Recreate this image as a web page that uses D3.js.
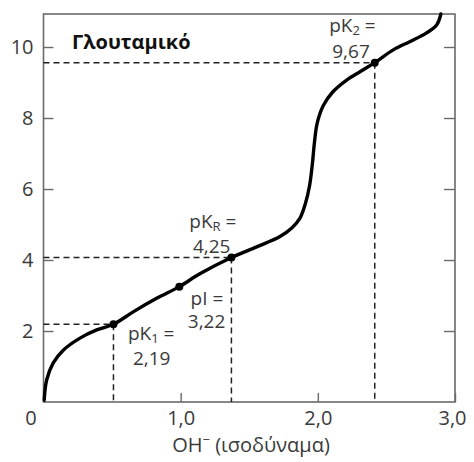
<!DOCTYPE html>
<html>
<head>
<meta charset="utf-8">
<script src="https://cdn.jsdelivr.net/npm/d3@7"></script>
<style>
  body { margin: 0; background: #fff; }
  svg { display: block; }
  .tick text { font-family: "Open Sans", sans-serif; font-size: 20px; fill: #3a3a3a; }
  .lbl { font-family: "Open Sans", sans-serif; font-size: 20px; fill: #3a3a3a; }
  .pt { font-family: "Open Sans", sans-serif; font-size: 19px; fill: #3a3a3a; }
</style>
</head>
<body>
<div class="chart"></div>
<script>
// titration curve (OH- equivalents vs pH)
var curveX = [0.005, 0.023, 0.071, 0.144, 0.266, 0.388, 0.51, 0.654, 0.825, 0.99, 1.14, 1.37, 1.554, 1.724, 1.81, 1.87, 1.91, 1.94, 1.96, 1.975, 1.995, 2.04, 2.11, 2.21, 2.31, 2.415, 2.55, 2.67, 2.79, 2.866, 2.897]
var curveY = [0.05, 0.62, 1.10, 1.46, 1.80, 2.03, 2.19, 2.54, 2.92, 3.25, 3.61, 4.07, 4.37, 4.66, 4.90, 5.18, 5.60, 6.10, 6.70, 7.30, 7.85, 8.35, 8.74, 9.07, 9.31, 9.56, 9.92, 10.15, 10.39, 10.62, 10.93]

// marked points
var ptX = [0.51, 0.99, 1.37, 2.415]
var ptY = [2.19, 3.25, 4.07, 9.56]
var ptName = ["pK", "pI", "pK", "pK"]
var ptSub = ["1", "", "R", "2"]
var ptValue = ["2,19", "3,22", "4,25", "9,67"]
var ptDashed = [true, false, true, true]

// ticks
var xTicks = [0, 1, 2, 3]
var xTickLabels = ["0", "1,0", "2,0", "3,0"]
var yTicks = [2, 4, 6, 8, 10]
var yTickLabels = ["2", "4", "6", "8", "10"]

var width = 474, height = 462

let svg = d3.select('div.chart').append('svg')
  .attr("width", width).attr("height", height)

let x = d3.scaleLinear().domain([0, 3]).range([43.5, 455])
let y = d3.scaleLinear().domain([0, 10.93]).range([402, 14])

//frame
svg.append("rect")
  .attr("x", x(0)).attr("y", y(10.93))
  .attr("width", x(3) - x(0)).attr("height", y(0) - y(10.93))
  .attr("fill", "none").attr("stroke", "#6a6a6a").attr("stroke-width", 1.6)

//Axis_y left
let yl = svg.append("g")
  .attr("transform", "translate(" + x(0) + ",0)")
  .call(d3.axisLeft(y).tickValues(yTicks).tickSizeInner(-10).tickSizeOuter(0).tickPadding(10)
    .tickFormat((d, i) => yTickLabels[i]))
yl.select(".domain").remove()
yl.selectAll(".tick line").attr("stroke", "#6a6a6a").attr("stroke-width", 1.4)

//Axis_y right
let yr = svg.append("g")
  .attr("transform", "translate(" + x(3) + ",0)")
  .call(d3.axisRight(y).tickValues(yTicks).tickSizeInner(-11).tickSizeOuter(0).tickFormat(""))
yr.select(".domain").remove()
yr.selectAll(".tick line").attr("stroke", "#6a6a6a").attr("stroke-width", 1.4)

//Axis_x
let xa = svg.append("g")
  .attr("transform", "translate(0," + y(0) + ")")
  .call(d3.axisBottom(x).tickValues(xTicks).tickSizeInner(-9).tickSizeOuter(0).tickPadding(9)
    .tickFormat((d, i) => xTickLabels[i]))
xa.select(".domain").remove()
xa.selectAll(".tick line").attr("stroke", "#6a6a6a").attr("stroke-width", 1.4)
xa.selectAll(".tick text").filter(d => d == 0).attr("x", -13)
xa.selectAll(".tick text").filter(d => d == 3).attr("x", -3)

//axis title
let xt = svg.append("text").attr("class", "lbl")
  .attr("x", 251).attr("y", 452).attr("text-anchor", "middle")
xt.append("tspan").text("OH")
xt.append("tspan").attr("dy", -8).attr("font-size", 13).text("−")
xt.append("tspan").attr("dy", 8).text(" (ισοδύναμα)")

//name
svg.append("text").attr("class", "lbl")
  .attr("x", 72).attr("y", 49)
  .style("font-weight", "bold").style("fill", "#111")
  .text("Γλουταμικό")

//dashed guides
ptX.forEach((d, i) => {
  if (!ptDashed[i]) return
  svg.append("line")
    .attr("x1", x(0)).attr("x2", x(d)).attr("y1", y(ptY[i])).attr("y2", y(ptY[i]))
    .attr("stroke", "#222").attr("stroke-width", 1.5).attr("stroke-dasharray", "6,4")
  svg.append("line")
    .attr("x1", x(d)).attr("x2", x(d)).attr("y1", y(ptY[i])).attr("y2", y(0))
    .attr("stroke", "#222").attr("stroke-width", 1.5).attr("stroke-dasharray", "6,4")
})

//curve
let line = d3.line()
  .x(d => x(d[0])).y(d => y(d[1]))
  .curve(d3.curveCatmullRom.alpha(0.5))
svg.append("path")
  .datum(curveX.map((d, i) => [d, curveY[i]]))
  .attr("d", line)
  .attr("fill", "none").attr("stroke", "#000").attr("stroke-width", 3.4)
  .attr("stroke-linecap", "round")

//points
svg.append("g").selectAll("circle")
  .data(ptX).enter()
  .append("circle")
  .attr("cx", d => x(d)).attr("cy", (d, i) => y(ptY[i]))
  .attr("r", 4).attr("fill", "#000")

// label offsets (name line, value line) relative to each point
var labelOff = [
  [[61, 16], [57, 41]],
  [[44, 18], [46, 41]],
  [[5, -30], [-1, -5]],
  [[1, -31], [-5, -5]]
]
ptX.forEach((d, i) => {
  let px = x(d), py = y(ptY[i])
  let o = labelOff[i]
  let t = svg.append("text").attr("class", "pt")
    .attr("text-anchor", "end")
  t.append("tspan").attr("x", px + o[0][0]).attr("y", py + o[0][1]).text(ptName[i])
  if (ptSub[i]) {
    t.append("tspan").attr("dy", 3).attr("font-size", 13).text(ptSub[i])
    t.append("tspan").attr("dy", -3).text(" =")
  } else {
    t.append("tspan").text(" =")
  }
  t.append("tspan").attr("x", px + o[1][0]).attr("y", py + o[1][1]).text(ptValue[i])
})
</script>
</body>
</html>
